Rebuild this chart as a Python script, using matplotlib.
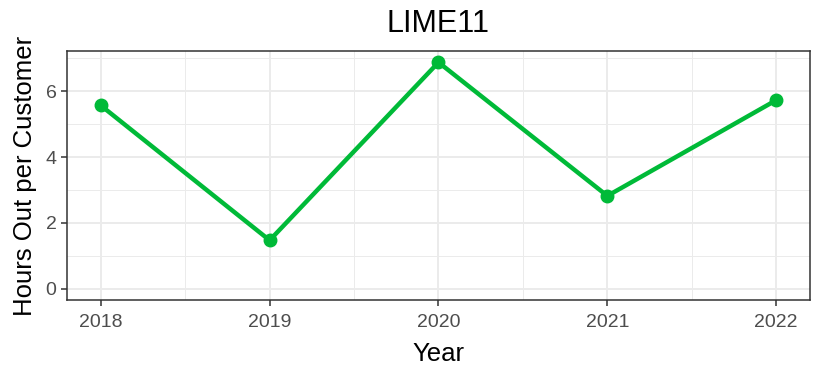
import matplotlib.pyplot as plt
from matplotlib.ticker import MultipleLocator

plt.rcParams['font.family'] = ['Liberation Sans', 'DejaVu Sans']

years = [2018, 2019, 2020, 2021, 2022]
hours = [5.57, 1.47, 6.88, 2.82, 5.73]

fig, ax = plt.subplots(figsize=(8.13, 3.68), dpi=100)
fig.subplots_adjust(left=0.0824, right=0.9963, top=0.8614, bottom=0.1848)

ax.plot(years, hours, color='#00BA38', lw=3.2, marker='o', ms=9, zorder=3)

ax.set_xlim(2017.8, 2022.2)
ax.set_ylim(-0.344, 7.224)
ax.set_xticks(years)
ax.xaxis.set_minor_locator(MultipleLocator(0.5))
ax.yaxis.set_major_locator(MultipleLocator(2))
ax.yaxis.set_minor_locator(MultipleLocator(1))

ax.grid(which='major', color='#EBEBEB', lw=1.4)
ax.grid(which='minor', color='#EBEBEB', lw=0.7)
ax.set_axisbelow(True)
for s in ax.spines.values():
    s.set_color('#333333')
    s.set_linewidth(1.1)
ax.tick_params(which='major', length=4, color='#333333', labelsize=14,
               labelcolor='#4D4D4D', width=1.1)
ax.tick_params(axis='x', pad=6)
ax.tick_params(which='minor', length=0)

ax.set_title('LIME11', fontsize=22, pad=13.5)
ax.set_xlabel('Year', fontsize=18.5, labelpad=8)
ax.set_ylabel('Hours Out per Customer', fontsize=18.5, labelpad=6)

fig.savefig('out.png', dpi=100)
